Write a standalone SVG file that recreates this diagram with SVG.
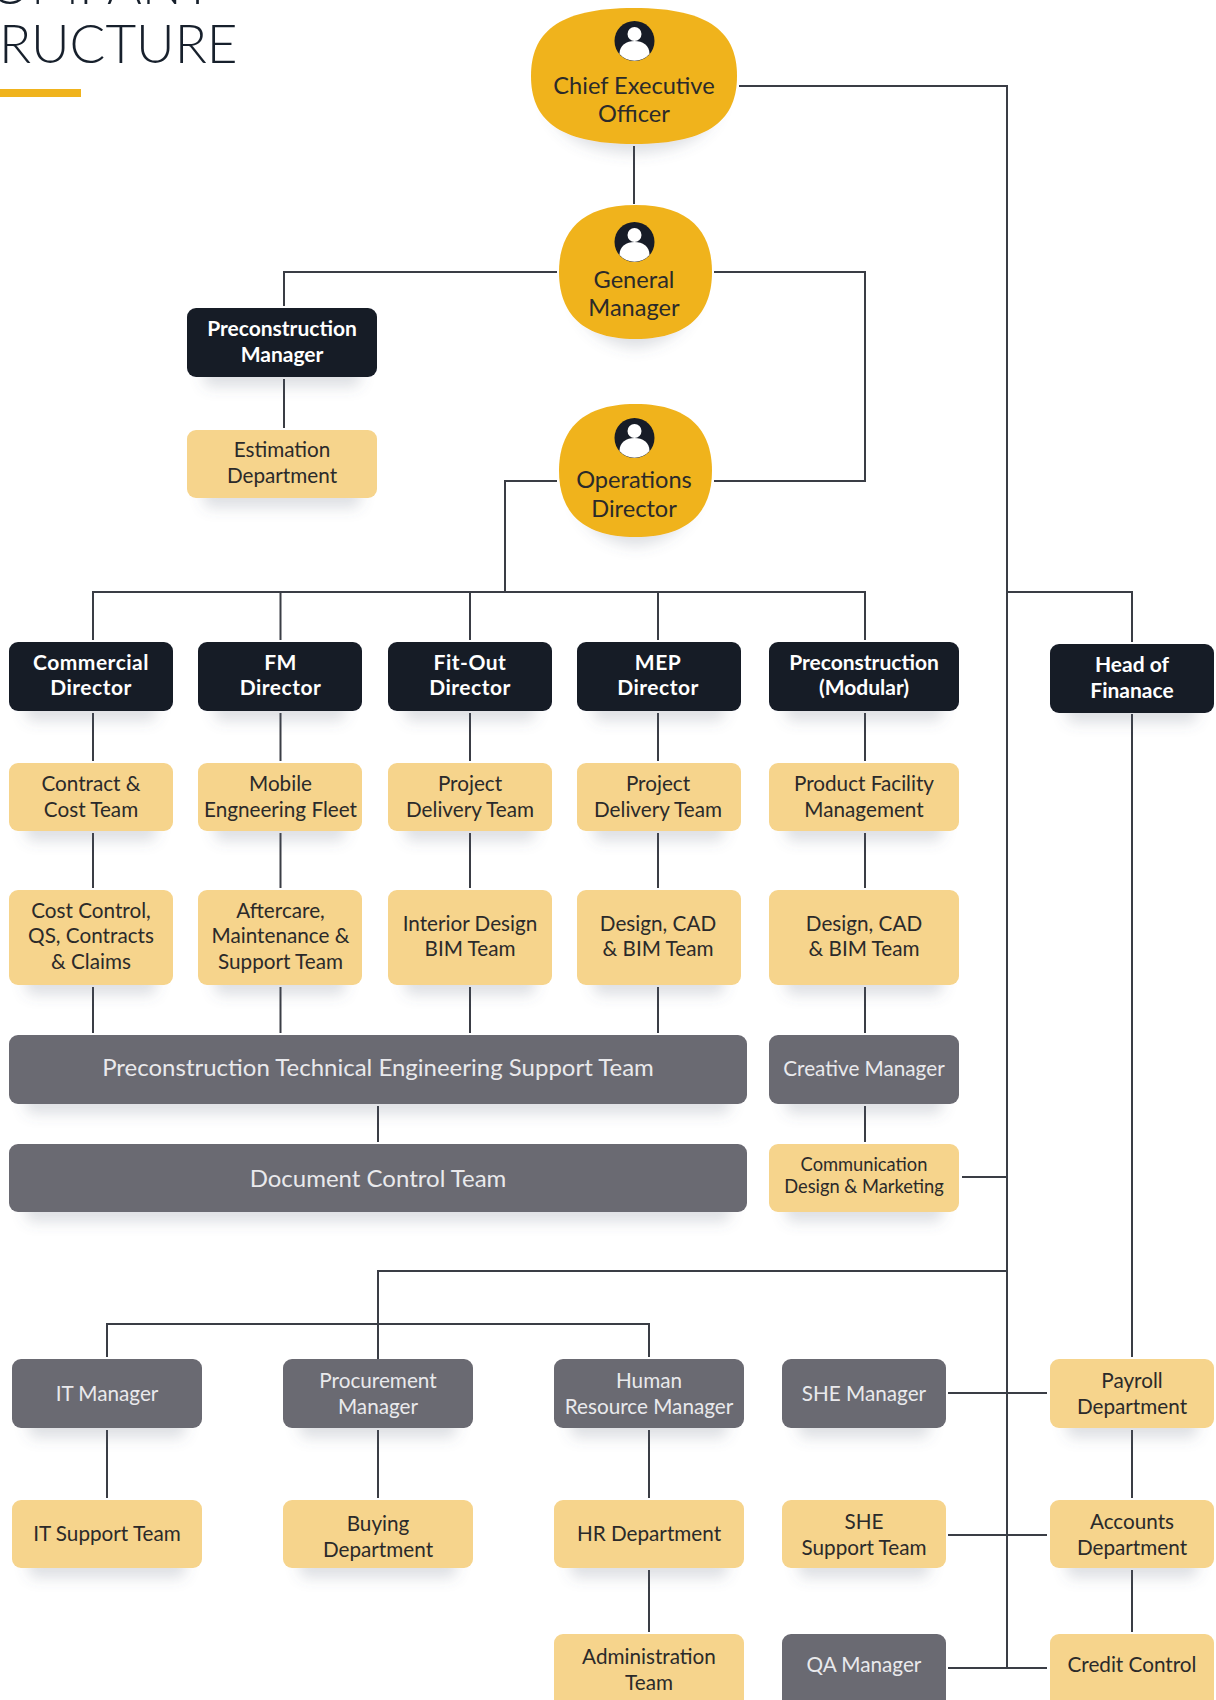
<svg xmlns="http://www.w3.org/2000/svg" width="1216" height="1700" viewBox="0 0 1216 1700">
<style>
text{font-family:"Lato","Liberation Sans",sans-serif;text-anchor:middle;font-size:20.700px;fill:#2b2a2a}
.title{font-size:53px;text-anchor:start;fill:#17202c;font-weight:300}
.l{fill:#f6d48c}.d{fill:#171c27}.g{fill:#6b6a72}.y{fill:#f0b31d}
.dt{fill:#fff;font-weight:700;font-size:21px}
.ds{letter-spacing:.5px}
.gt{fill:#e9e9ec}
.big{font-size:23.600px}
.wide{font-size:24px}
.small{font-size:18.300px}
.c{fill:none;stroke:#3a3d45;stroke-width:2}
.n{filter:url(#sh)}
</style>
<defs>
<filter id="sh" x="-20%" y="-20%" width="140%" height="160%">
<feMorphology in="SourceAlpha" operator="erode" radius="16 8" result="e"/>
<feOffset in="e" dy="18" result="o"/>
<feGaussianBlur in="o" stdDeviation="7" result="b"/>
<feFlood flood-color="#5a6478" flood-opacity=".2"/>
<feComposite in2="b" operator="in" result="s"/>
<feMerge><feMergeNode in="s"/><feMergeNode in="SourceGraphic"/></feMerge>
</filter>
<g id="p">
<circle r="20" fill="#171c27"/>
<circle cy="-7" r="7" fill="#fff"/>
<path d="M-15 13C-15 4-8 0 0 0S15 4 15 13A20 20 0 0 1-15 13Z" fill="#fff"/>
</g>
</defs>
<text class="title" x="-11" y="4">OMPANY</text>
<text class="title" x="-1" y="63">RUCTURE</text>
<rect x="0" y="89" width="81" height="8" fill="#f0b31d"/>
<g id="connectors" class="c">
<path d="M739 86H1007V1669M634 146V204M557 272H284V306M284 379V428M714 272H865V481H714M557 481H505V592M93 640V592H865V640M280.500 592V640M470 592V640M658 592V640M1007 592H1132V642M1132 714V1357M1132 1430V1498M1132 1570V1632"/>
<path d="M93 713V761M280.500 713V761M470 713V761M658 713V761M865 713V761M93 833V888M280.500 833V888M470 833V888M658 833V888M865 833V888M93 987V1033M280.500 987V1033M470 987V1033M658 987V1033M865 987V1033M378 1106V1142M865 1106V1142M962 1177H1007M378 1359V1271H1007M107 1357V1324H649V1357M107 1430V1498M378 1430V1498M649 1430V1498M649 1570V1632M948 1393H1047M948 1535H1047M948 1668H1047"/>
</g>
<g id="ceo" class="n"><path class="y" d="M634 8C712 8 737 34 737 76C737 118 712 144 634 144C556 144 531 118 531 76C531 34 556 8 634 8Z"/></g>
<use href="#p" x="634.500" y="41"/><text class="big" x="634" y="94">Chief Executive</text><text class="big" x="634" y="122">Officer</text>
<g id="gm" class="n"><path class="y" d="M635.500 205C694 205 712 236 712 272C712 308 694 339 635.500 339C577 339 559 308 559 272C559 236 577 205 635.500 205Z"/></g>
<use href="#p" x="634.500" y="242"/><text class="big" x="634" y="288">General</text><text class="big" x="634" y="316">Manager</text>
<g id="ops" class="n"><path class="y" d="M635.500 404C694 404 712 435 712 471C712 507 694 537 635.500 537C577 537 559 507 559 471C559 435 577 404 635.500 404Z"/></g>
<use href="#p" x="634.500" y="438"/><text class="big" x="634" y="488">Operations</text><text class="big" x="634" y="517">Director</text>
<g id="pm" class="n"><rect class="d" x="187" y="308" width="190" height="69" rx="9"/></g><text class="dt" x="282" y="336">Preconstruction</text><text class="dt" x="282" y="362">Manager</text>
<g id="est" class="n"><rect class="l" x="187" y="430" width="190" height="68" rx="9"/></g><text x="282" y="457">Estimation</text><text x="282" y="483">Department</text>
<g id="dir1" class="n"><rect class="d" x="9" y="642" width="164" height="69" rx="9"/></g><text class="dt ds" x="91" y="670">Commercial</text><text class="dt ds" x="91" y="695">Director</text>
<g id="dir2" class="n"><rect class="d" x="198" y="642" width="164" height="69" rx="9"/></g><text class="dt ds" x="280.500" y="670">FM</text><text class="dt ds" x="280.500" y="695">Director</text>
<g id="dir3" class="n"><rect class="d" x="388" y="642" width="164" height="69" rx="9"/></g><text class="dt ds" x="470" y="670">Fit-Out</text><text class="dt ds" x="470" y="695">Director</text>
<g id="dir4" class="n"><rect class="d" x="577" y="642" width="164" height="69" rx="9"/></g><text class="dt ds" x="658" y="670">MEP</text><text class="dt ds" x="658" y="695">Director</text>
<g id="dir5" class="n"><rect class="d" x="769" y="642" width="190" height="69" rx="9"/></g><text class="dt" x="864" y="670">Preconstruction</text><text class="dt" x="864" y="695">(Modular)</text>
<g id="hof" class="n"><rect class="d" x="1050" y="644" width="164" height="69" rx="9"/></g><text class="dt" x="1132" y="672">Head of</text><text class="dt" x="1132" y="698">Finanace</text>
<g id="t1" class="n"><rect class="l" x="9" y="763" width="164" height="68" rx="9"/></g><text x="91" y="791">Contract &amp;</text><text x="91" y="817">Cost Team</text>
<g id="t2" class="n"><rect class="l" x="198" y="763" width="164" height="68" rx="9"/></g><text x="280.500" y="791">Mobile</text><text x="280.500" y="817">Engneering Fleet</text>
<g id="t3" class="n"><rect class="l" x="388" y="763" width="164" height="68" rx="9"/></g><text x="470" y="791">Project</text><text x="470" y="817">Delivery Team</text>
<g id="t4" class="n"><rect class="l" x="577" y="763" width="164" height="68" rx="9"/></g><text x="658" y="791">Project</text><text x="658" y="817">Delivery Team</text>
<g id="t5" class="n"><rect class="l" x="769" y="763" width="190" height="68" rx="9"/></g><text x="864" y="791">Product Facility</text><text x="864" y="817">Management</text>
<g id="u1" class="n"><rect class="l" x="9" y="890" width="164" height="95" rx="9"/></g><text x="91" y="918">Cost Control,</text><text x="91" y="943">QS, Contracts</text><text x="91" y="969">&amp; Claims</text>
<g id="u2" class="n"><rect class="l" x="198" y="890" width="164" height="95" rx="9"/></g><text x="280.500" y="918">Aftercare,</text><text x="280.500" y="943">Maintenance &amp;</text><text x="280.500" y="969">Support Team</text>
<g id="u3" class="n"><rect class="l" x="388" y="890" width="164" height="95" rx="9"/></g><text x="470" y="931">Interior Design</text><text x="470" y="956">BIM Team</text>
<g id="u4" class="n"><rect class="l" x="577" y="890" width="164" height="95" rx="9"/></g><text x="658" y="931">Design, CAD</text><text x="658" y="956">&amp; BIM Team</text>
<g id="u5" class="n"><rect class="l" x="769" y="890" width="190" height="95" rx="9"/></g><text x="864" y="931">Design, CAD</text><text x="864" y="956">&amp; BIM Team</text>
<g id="pte" class="n"><rect class="g" x="9" y="1035" width="738" height="69" rx="9"/></g><text class="gt wide" x="378" y="1076">Preconstruction Technical Engineering Support Team</text>
<g id="cm" class="n"><rect class="g" x="769" y="1035" width="190" height="69" rx="9"/></g><text class="gt" x="864" y="1076">Creative Manager</text>
<g id="dc" class="n"><rect class="g" x="9" y="1144" width="738" height="68" rx="9"/></g><text class="gt wide" x="378" y="1187">Document Control Team</text>
<g id="cdm" class="n"><rect class="l" x="769" y="1144" width="190" height="68" rx="9"/></g><text class="small" x="864" y="1171">Communication</text><text class="small" x="864" y="1193">Design &amp; Marketing</text>
<g id="it" class="n"><rect class="g" x="12" y="1359" width="190" height="69" rx="9"/></g><text class="gt" x="107" y="1401">IT Manager</text>
<g id="pr" class="n"><rect class="g" x="283" y="1359" width="190" height="69" rx="9"/></g><text class="gt" x="378" y="1388">Procurement</text><text class="gt" x="378" y="1414">Manager</text>
<g id="hr" class="n"><rect class="g" x="554" y="1359" width="190" height="69" rx="9"/></g><text class="gt" x="649" y="1388">Human</text><text class="gt" x="649" y="1414">Resource Manager</text>
<g id="she" class="n"><rect class="g" x="782" y="1359" width="164" height="69" rx="9"/></g><text class="gt" x="864" y="1401">SHE Manager</text>
<g id="pay" class="n"><rect class="l" x="1050" y="1359" width="164" height="69" rx="9"/></g><text x="1132" y="1388">Payroll</text><text x="1132" y="1414">Department</text>
<g id="its" class="n"><rect class="l" x="12" y="1500" width="190" height="68" rx="9"/></g><text x="107" y="1541">IT Support Team</text>
<g id="buy" class="n"><rect class="l" x="283" y="1500" width="190" height="68" rx="9"/></g><text x="378" y="1531">Buying</text><text x="378" y="1557">Department</text>
<g id="hrd" class="n"><rect class="l" x="554" y="1500" width="190" height="68" rx="9"/></g><text x="649" y="1541">HR Department</text>
<g id="shs" class="n"><rect class="l" x="782" y="1500" width="164" height="68" rx="9"/></g><text x="864" y="1529">SHE</text><text x="864" y="1555">Support Team</text>
<g id="acc" class="n"><rect class="l" x="1050" y="1500" width="164" height="68" rx="9"/></g><text x="1132" y="1529">Accounts</text><text x="1132" y="1555">Department</text>
<g id="adm" class="n"><rect class="l" x="554" y="1634" width="190" height="80" rx="9"/></g><text x="649" y="1664">Administration</text><text x="649" y="1690">Team</text>
<g id="qa" class="n"><rect class="g" x="782" y="1634" width="164" height="80" rx="9"/></g><text class="gt" x="864" y="1672">QA Manager</text>
<g id="cc" class="n"><rect class="l" x="1050" y="1634" width="164" height="80" rx="9"/></g><text x="1132" y="1672">Credit Control</text>
</svg>
